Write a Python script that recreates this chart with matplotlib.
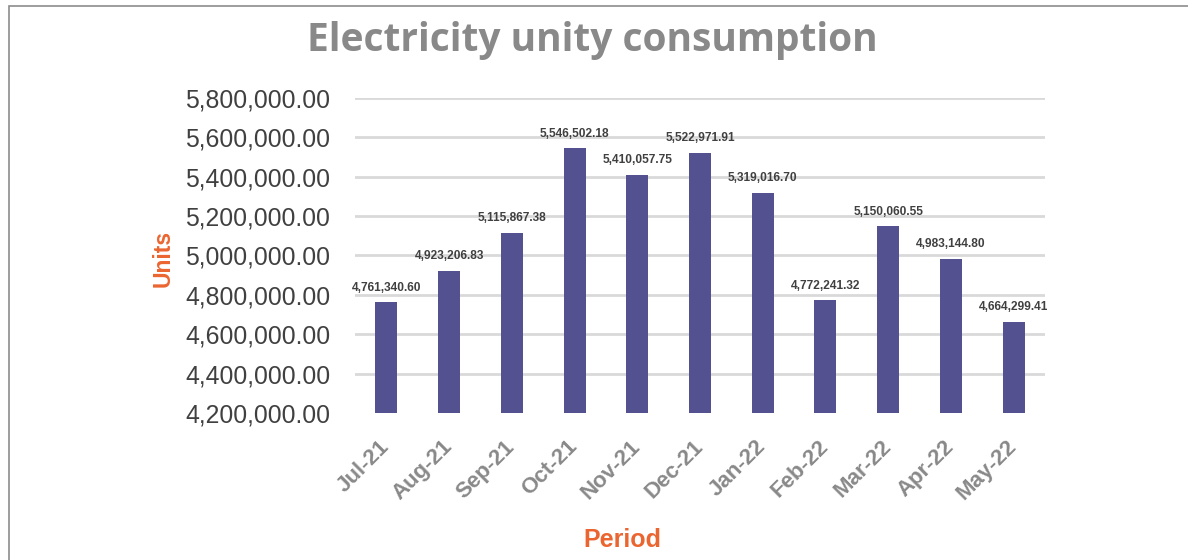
import matplotlib
matplotlib.use("Agg")
import matplotlib.pyplot as plt
from matplotlib.patches import Rectangle
from matplotlib.ticker import FuncFormatter

periods = ["Jul-21", "Aug-21", "Sep-21", "Oct-21", "Nov-21", "Dec-21",
           "Jan-22", "Feb-22", "Mar-22", "Apr-22", "May-22"]
units = [4761340.60, 4923206.83, 5115867.38, 5546502.18, 5410057.75, 5522971.91,
         5319016.70, 4772241.32, 5150060.55, 4983144.80, 4664299.41]

BAR_COLOR = "#535190"
GRAY = "#898989"
ORANGE = "#EB6530"

fig = plt.figure(figsize=(11.88, 5.6), dpi=100)
ax = fig.add_axes([355 / 1188, 1 - 413 / 560, 690 / 1188, 315 / 560])

# outer chart border (only top/left visible in the original)
fig.patches.append(Rectangle((9 / 1188, -0.1), 1.2, 1.1 - 6 / 560,
                             transform=fig.transFigure, fill=False,
                             edgecolor="#8c8c8c", linewidth=1.2))

x = range(len(periods))
bars = ax.bar(x, units, width=0.35, color=BAR_COLOR, zorder=3)

for i, v in enumerate(units):
    ax.annotate(f"{v:,.2f}", (i, v), xytext=(0, 6), textcoords="offset points",
                ha="center", va="bottom", fontsize=8.6, fontweight="bold",
                color="#404040", family="Liberation Sans")

ax.set_ylim(4200000, 5800000)
ax.set_xlim(-0.5, len(periods) - 0.5)
ax.set_yticks(range(4200000, 5800001, 200000))
ax.yaxis.set_major_formatter(FuncFormatter(lambda v, p: f"{v:,.2f}"))
ax.grid(axis="y", color="#d9d9d9", linewidth=2, zorder=0)
ax.set_axisbelow(True)
ax.yaxis.get_gridlines()[0].set_visible(False)

for s in ax.spines.values():
    s.set_visible(False)
ax.tick_params(axis="both", length=0)
ax.tick_params(axis="y", pad=18, labelsize=17.8, labelcolor="#404040")

ax.set_xticks(list(x))
ax.set_xticklabels(periods, rotation=45, ha="right", va="center",
                   rotation_mode="anchor", fontsize=16, fontweight="bold",
                   color=GRAY, family="Liberation Sans")
ax.tick_params(axis="x", pad=22)
for lbl in ax.get_yticklabels():
    lbl.set_family("Liberation Sans")

fig.text(592 / 1188, 1 - 41 / 560, "Electricity unity consumption",
         ha="center", va="center", fontsize=28, fontweight="bold",
         color=GRAY, family="Open Sans")
fig.text(163 / 1188, 1 - 258 / 560, "Units", rotation=90, ha="center",
         va="center", fontsize=16.5, fontweight="bold", color=ORANGE,
         family="Liberation Sans")
fig.text(622 / 1188, 1 - 540 / 560, "Period", ha="center", va="center",
         fontsize=18, fontweight="bold", color=ORANGE, family="Liberation Sans")

fig.savefig("out.png", dpi=100)
